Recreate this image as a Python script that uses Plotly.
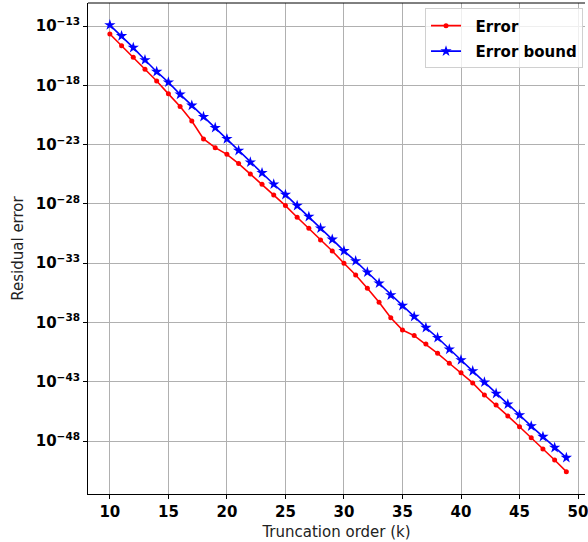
import plotly.graph_objects as go

k = list(range(10, 50))

error = [2.1e-14, 2.2e-15, 2.3e-16, 2.2e-17, 2.3e-18, 1.9e-19, 1.6e-20, 9.8e-22,
         3.0e-23, 5.5e-24, 1.5e-24, 2.5e-25, 3.3e-26, 4.5e-27, 5.6e-28, 7.1e-29,
         7.4e-30, 8.7e-31, 8.9e-32, 1.07e-32, 9.8e-34, 1.0e-34, 7.6e-36, 5.0e-37,
         2.5e-38, 2.3e-39, 7.8e-40, 1.5e-40, 2.5e-41, 3.6e-42, 5.8e-43, 7.9e-44,
         7.6e-45, 1.07e-45, 1.3e-46, 1.6e-47, 1.9e-48, 2.1e-49, 2.5e-50, 2.6e-51]

error_bound = [1.2e-13, 1.45e-14, 1.5e-15, 1.35e-16, 1.4e-17, 1.8e-18, 1.7e-19, 2.0e-20,
               2.2e-21, 2.6e-22, 3.0e-23, 3.1e-24, 3.2e-25, 4.1e-26, 4.5e-27, 6.0e-28,
               7.1e-29, 8.3e-30, 8.7e-31, 1.0e-31, 1.07e-32, 1.5e-33, 1.7e-34, 2.0e-35,
               2.0e-36, 2.6e-37, 3.1e-38, 3.6e-39, 5.1e-40, 5.4e-41, 6.8e-42, 7.9e-43,
               8.9e-44, 1.0e-44, 1.26e-45, 1.55e-46, 1.8e-47, 2.3e-48, 2.75e-49, 3.9e-50]

y_tick_exps = [-13, -18, -23, -28, -33, -38, -43, -48]
x_ticks = [10, 15, 20, 25, 30, 35, 40, 45, 50]

FONT = "DejaVu Sans"
NB = "\u00a0"

fig = go.Figure()
fig.add_trace(go.Scatter(
    x=k, y=error, name=f"{NB}{NB}<b>Error</b>", mode="lines+markers",
    legendgroup="a",
    line=dict(color="#ff0000", width=1.6),
    marker=dict(symbol="circle", size=5, color="#ff0000"),
))
fig.add_trace(go.Scatter(
    x=k, y=error_bound, name=f"{NB}{NB}<b>Error bound</b>", mode="lines+markers",
    legendgroup="b",
    line=dict(color="#0000ff", width=1.6),
    marker=dict(symbol="star", size=8.5, color="#0000ff"),
))

fig.update_layout(
    width=588, height=542,
    margin=dict(l=88, r=0, t=3, b=48),
    paper_bgcolor="white", plot_bgcolor="white",
    font=dict(family=FONT, color="black"),
    showlegend=True,
    legend=dict(
        x=0.996, y=0.989, xanchor="right", yanchor="top",
        bgcolor="rgba(255,255,255,0.8)", bordercolor="#d0d0d0", borderwidth=1,
        font=dict(family=FONT, size=15, color="black"),
        tracegroupgap=3,
    ),
)

fig.update_xaxes(
    range=[8.132, 50.594],
    tickvals=x_ticks, ticktext=[f"<b>{v}</b>" for v in x_ticks],
    tickfont=dict(family=FONT, size=15, color="black"),
    ticklabeloverflow="allow",
    ticks="outside", ticklen=4, tickcolor="black",
    showgrid=True, gridcolor="#b0b0b0", gridwidth=1,
    showline=True, linecolor="black", linewidth=1,
    zeroline=False,
    title=dict(text="Truncation order (k)", font=dict(family=FONT, size=15, color="#222"), standoff=6),
)
fig.update_yaxes(
    type="log",
    range=[-52.47, -11.06],
    tickvals=[10.0 ** e for e in y_tick_exps],
    ticktext=[f"<b>10<sup>\u2212{abs(e)}</sup></b>" for e in y_tick_exps],
    tickfont=dict(family=FONT, size=15, color="black"),
    ticks="outside", ticklen=4, tickcolor="black",
    showgrid=True, gridcolor="#b0b0b0", gridwidth=1,
    showline=True, linecolor="black", linewidth=1,
    zeroline=False,
    title=dict(text="Residual error", font=dict(family=FONT, size=15, color="#222"), standoff=8),
)

fig.add_shape(type="line", xref="paper", yref="paper", x0=0, x1=1, y0=1, y1=1,
              line=dict(color="black", width=1))

fig.write_html("out.html", config={"displayModeBar": False},
               post_script="document.body.style.margin='0px';document.body.style.overflow='hidden';")
